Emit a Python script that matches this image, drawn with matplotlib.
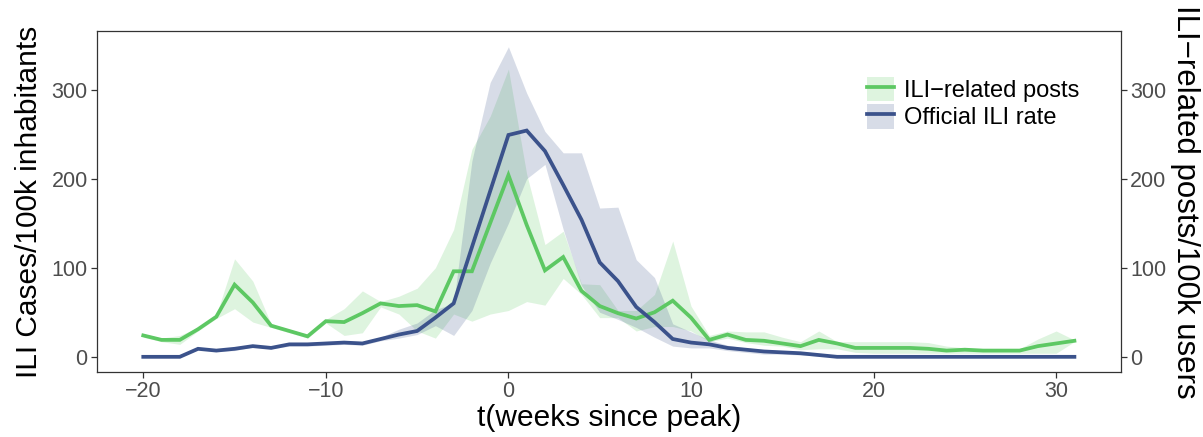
import matplotlib
matplotlib.use("Agg")
import matplotlib.pyplot as plt
from matplotlib.lines import Line2D
from matplotlib.patches import Patch

# weeks relative to the epidemic peak
weeks = list(range(-20, 32))

# ILI-related posts per 100k users (line + ribbon)
posts = [24, 19, 19, 31, 45, 81, 61, 35, 29, 23,
         40, 39, 49, 60, 57, 58, 51, 96, 96, 150,
         204, 148, 97, 112, 74, 57, 49, 43, 50, 63,
         44, 19, 25, 19, 18, 15, 12, 19, 15, 10,
         10, 10, 10, 9, 7, 8, 7, 7, 7, 12,
         15, 18]
posts_lo = [22, 17, 14, 29, 43, 54, 39, 33, 27, 21,
            38, 24, 27, 56, 48, 29, 21, 48, 40, 48,
            52, 62, 58, 88, 70, 44, 44, 29, 34, 34,
            29, 17, 21, 16, 13, 12, 8, 9, 9, 5,
            4, 4, 4, 4, 4, 4, 4, 4, 4, 4,
            4, 17]
posts_hi = [26, 21, 24, 33, 47, 110, 85, 37, 31, 25,
            42, 54, 74, 62, 68, 77, 100, 143, 233, 270,
            323, 205, 126, 141, 82, 81, 52, 52, 70, 130,
            57, 24, 29, 28, 28, 22, 17, 29, 17, 17,
            17, 17, 17, 16, 12, 10, 9, 9, 9, 20,
            29, 19]

# official ILI cases per 100k inhabitants (line + ribbon)
ili = [0, 0, 0, 9, 7, 9, 12, 10, 14, 14,
       15, 16, 15, 20, 25, 29, 44, 60, 123, 186,
       249, 254, 231, 193, 154, 106, 85, 56, 39, 20,
       16, 14, 10, 8, 6, 5, 4, 2, 0, 0,
       0, 0, 0, 0, 0, 0, 0, 0, 0, 0,
       0, 0]
ili_lo = [0, 0, 0, 8, 6, 7, 11, 9, 12, 12,
          13, 14, 13, 18, 21, 25, 35, 24, 52, 105,
          150, 200, 216, 143, 80, 50, 42, 33, 22, 12,
          10, 10, 7, 5, 3, 3, 2, 1, 0, 0,
          0, 0, 0, 0, 0, 0, 0, 0, 0, 0,
          0, 0]
ili_hi = [1, 1, 1, 10, 8, 10, 13, 11, 15, 15,
          16, 18, 17, 22, 31, 38, 53, 60, 220, 308,
          348, 296, 253, 229, 229, 167, 168, 109, 89, 37,
          28, 19, 13, 10, 8, 7, 6, 4, 1, 0,
          0, 0, 0, 0, 0, 0, 0, 0, 0, 0,
          0, 0]

yticks = [0, 100, 200, 300]
xticks = [-20, -10, 0, 10, 20, 30]

GREEN = "#5DC863"
BLUE = "#3B528B"
TICK_GREY = "#4D4D4D"
DARK = "#333333"
LW = 2.7

plt.rcParams["font.family"] = ["Liberation Sans", "DejaVu Sans"]


def main():
    fig = plt.figure(figsize=(12.03, 4.37), dpi=100)
    ax = fig.add_axes([0.0804, 0.148, 0.8514, 0.7804])

    ax.fill_between(weeks, posts_lo, posts_hi, color=GREEN, alpha=0.2, lw=0)
    ax.fill_between(weeks, ili_lo, ili_hi, color=BLUE, alpha=0.2, lw=0)
    ax.plot(weeks, posts, color=GREEN, lw=LW, solid_joinstyle="miter")
    ax.plot(weeks, ili, color=BLUE, lw=LW, solid_joinstyle="miter")

    # ggplot-like 5% expansion
    xspan = weeks[-1] - weeks[0]
    ax.set_xlim(weeks[0] - 0.05 * xspan, weeks[-1] + 0.05 * xspan)
    ytop = max(ili_hi + posts_hi)
    ax.set_ylim(-0.05 * ytop, ytop * 1.05)

    ax.set_xticks(xticks)
    ax.set_yticks(yticks)
    ax.tick_params(length=4, width=0.9, color=DARK, labelsize=15.5,
                   labelcolor=TICK_GREY, pad=2.5)
    for s in ax.spines.values():
        s.set_color(DARK)
        s.set_linewidth(0.9)

    ax.set_xlabel("t(weeks since peak)", fontsize=21.5, labelpad=1)
    ax.set_ylabel("ILI Cases/100k inhabitants", fontsize=21.5, labelpad=6)

    ax2 = ax.twinx()
    ax2.set_ylim(ax.get_ylim())
    ax2.set_yticks(yticks)
    ax2.tick_params(length=4, width=0.9, color=DARK, labelsize=15.5,
                    labelcolor=TICK_GREY, pad=2.5)
    for s in ax2.spines.values():
        s.set_visible(False)
    ax2.set_ylabel("ILI\u2212related posts/100k users", fontsize=22.5,
                   rotation=-90, va="bottom", labelpad=3)

    handles = [
        (Patch(facecolor=GREEN, alpha=0.2, lw=0), Line2D([], [], color=GREEN, lw=LW)),
        (Patch(facecolor=BLUE, alpha=0.2, lw=0), Line2D([], [], color=BLUE, lw=LW)),
    ]
    ax.legend(handles, ["ILI\u2212related posts", "Official ILI rate"],
              loc="upper left", bbox_to_anchor=(0.7517, 0.866),
              frameon=False, fontsize=17, borderpad=0, borderaxespad=0,
              handlelength=1.15, handleheight=1.2, handletextpad=0.45,
              labelspacing=0.1)

    plt.savefig("out.png", dpi=100)
    plt.close()


if __name__ == "__main__":
    main()
